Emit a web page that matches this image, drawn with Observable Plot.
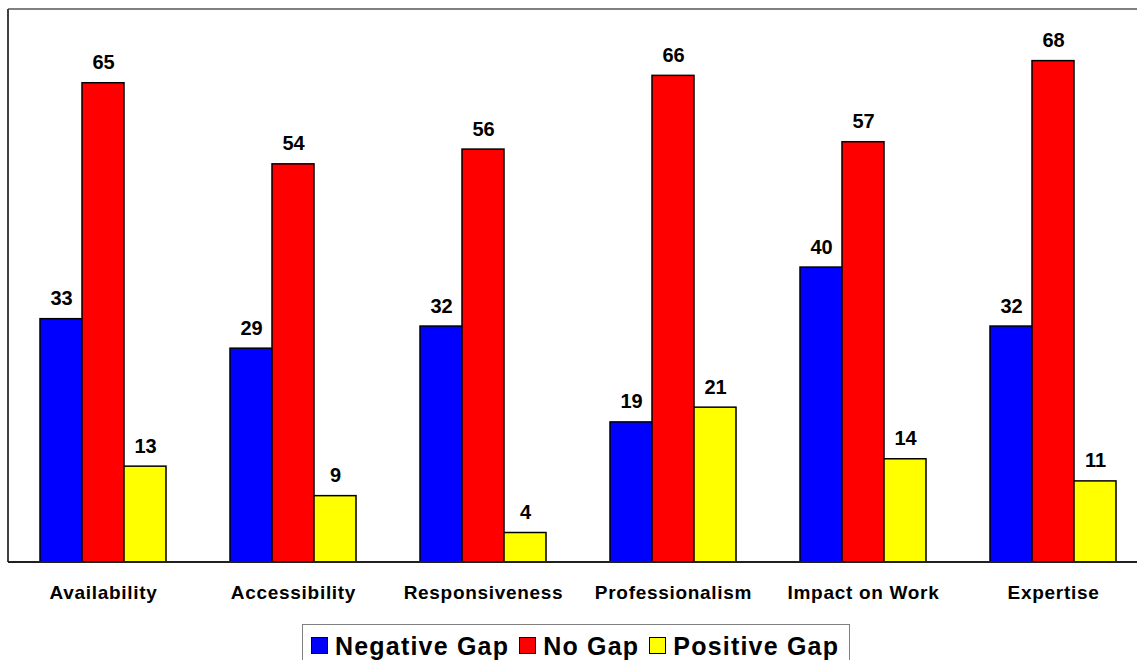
<!DOCTYPE html>
<html><head><meta charset="utf-8">
<script src="https://cdn.jsdelivr.net/npm/d3@7"></script>
<script src="https://cdn.jsdelivr.net/npm/@observablehq/plot@0.6"></script>
<style>
html,body{margin:0;padding:0;background:#fff;overflow:hidden;}
#wrap{width:1137px;height:660px;overflow:hidden;position:relative;}
#chart{width:1148px;}
#chart svg{display:block;max-width:none !important;}
g[aria-label^="fx-axis"] text{letter-spacing:0.7px;}
#legend{position:absolute;left:302px;top:624px;width:548px;height:60px;border:1px solid #808080;box-sizing:border-box;
  display:flex;align-items:flex-start;padding:9px 0 0 8px;
  font-family:'Liberation Sans',Arial,sans-serif;font-weight:bold;font-size:25px;line-height:24px;letter-spacing:1.2px;color:#000;}
.sw{width:15px;height:15px;border:1.5px solid #000;margin-top:3px;margin-right:7px;flex:none;}
.it{display:flex;align-items:flex-start;margin-right:10px;white-space:nowrap;}
</style></head><body>
<div id="wrap"><div id="chart"></div><div id="legend"></div></div>
<script>
const categories = ["Availability","Accessibility","Responsiveness","Professionalism","Impact on Work","Expertise"];
const series = ["Negative Gap","No Gap","Positive Gap"];
const negativeGap = [33,29,32,19,40,32];
const noGap = [65,54,56,66,57,68];
const positiveGap = [13,9,4,21,14,11];
const colors = ["#0000FF","#FF0000","#FFFF00"];

const values = [negativeGap, noGap, positiveGap];
const data = categories.flatMap((c,i)=>series.map((s,j)=>({category:c, series:s, value:values[j][i]})));

const plot = Plot.plot({
  width: 1148, height: 610,
  marginTop: 9, marginBottom: 48, marginLeft: 8, marginRight: 0,
  style: {fontFamily: "'Liberation Sans', Arial, sans-serif", fontSize: "19px", fontWeight: "bold", color: "#000", background: "#fff", maxWidth: "none"},
  facet: {data: data, x: "category"},
  fx: {domain: categories, paddingInner: 0.3368, paddingOuter: 0.1684, axis: "bottom", tickSize: 0, tickPadding: 23, label: null},
  x: {domain: series, padding: 0, axis: null},
  y: {domain: [0, 75], axis: null},
  color: {domain: series, range: colors},
  marks: [
    Plot.barY(data, {x: "series", y: "value", fill: "series", stroke: "#000", strokeWidth: 1.5}),
    Plot.text(data, {x: "series", y: "value", text: d => String(d.value), dy: -14, lineAnchor: "bottom", fontSize: 20, fontWeight: "bold", fill: "#000"})
  ]
});
document.getElementById("chart").appendChild(plot);

// plot-area border and axis line, positioned via the plot's scales
const ys = plot.scale("y"), fxs = plot.scale("fx");
const x0 = fxs ? fxs.range[0] : 8, x1 = fxs ? fxs.range[1] : 1148;
const yTop = ys.apply(75), yBot = ys.apply(0);
const svg = d3.select(plot);
const g = svg.append("g").attr("shape-rendering","crispEdges").attr("fill","none");
g.append("line").attr("x1",x0).attr("x2",x1).attr("y1",yTop).attr("y2",yTop).attr("stroke","#808080").attr("stroke-width",1.5);
g.append("line").attr("x1",x0).attr("x2",x0).attr("y1",yTop).attr("y2",yBot).attr("stroke","#404040").attr("stroke-width",1.5);
g.append("line").attr("x1",x0).attr("x2",x1).attr("y1",yBot).attr("y2",yBot).attr("stroke","#202020").attr("stroke-width",1.5);

// legend
const leg = d3.select("#legend");
series.forEach((s,i)=>{
  const it = leg.append("div").attr("class","it");
  it.append("div").attr("class","sw").style("background",colors[i]);
  it.append("span").text(s);
});
</script>
</body></html>
